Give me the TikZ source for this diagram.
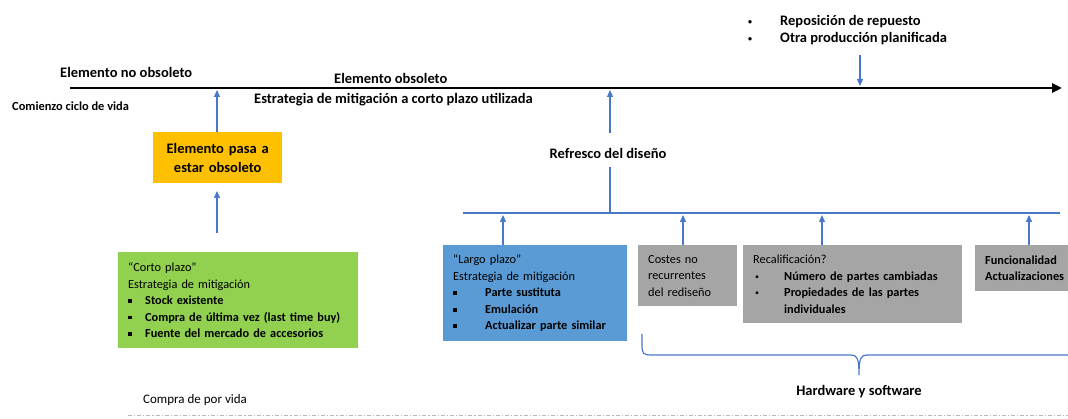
\documentclass[tikz,border=0pt]{standalone}
\usepackage{fontspec}
\setmainfont{Carlito}
\usetikzlibrary{arrows.meta}

\definecolor{linkblue}{HTML}{4A78C8}
\definecolor{shortgreen}{HTML}{92D050}
\definecolor{obsorange}{HTML}{FFC000}
\definecolor{longblue}{HTML}{5B9BD5}
\definecolor{boxgray}{HTML}{A5A5A5}

\newcommand{\sqbul}{\makebox[17pt][l]{\raisebox{1.6pt}{\rule{3.6pt}{3.6pt}}}}
\newcommand{\rndbul}[1]{\makebox[#1][l]{\hspace*{2pt}\raisebox{0.8pt}{\fontsize{8}{8}\selectfont •}}}

\begin{document}
\begin{tikzpicture}[x=1pt,y=-1pt]
  \tikzset{lbl/.style = {inner sep=0pt,anchor=west,font=\bfseries\fontsize{14.5}{17}\selectfont}}
  \tikzset{smalllbl/.style = {inner sep=0pt,anchor=west,font=\bfseries\fontsize{12.4}{14}\selectfont}}
  \tikzset{box/.style = {anchor=north west,inner xsep=10pt,inner ysep=0pt,align=left,font=\fontsize{12.3}{16.5}\selectfont}}
  \tikzset{conn/.style = {linkblue,line width=1.2pt,-{Triangle[length=7pt,width=6pt]}}}
  \tikzset{plain/.style = {linkblue,line width=1.2pt}}

  \useasboundingbox (0,0) rectangle (1068,419);

	% timeline
	\coordinate (start) at (70,88);
	\coordinate (stop) at (1062,88);
	\draw[line width=2.8pt,-{Triangle[length=10pt,width=9pt]}] (start) -- (stop);

	\node[lbl] (notobs) at (60,72) {Elemento no obsoleto};
	\node[smalllbl] (begin) at (12,106) {Comienzo ciclo de vida};
	\node[lbl] (obs) at (334,78) {Elemento obsoleto};
	\node[lbl] (usedshort) at (254,100) {Estrategia de mitigación a corto plazo utilizada};

	\node[lbl,align=left] (spare) at (746,30) {\rndbul{34pt}Reposición de repuesto\\\rndbul{34pt}Otra producción planificada};

	% obsolete branch
	\node[box,fill=obsorange,align=center,font=\bfseries\fontsize{14.5}{19}\selectfont,
	      minimum width=129pt,minimum height=51pt,text width=109pt] (gone) at (153,132)
	      {Elemento pasa a\\estar obsoleto};

	\node[box,fill=shortgreen,minimum width=240pt,minimum height=96pt,text width=220pt] (short) at (118,252)
	      {“Corto plazo”\\Estrategia de mitigación\\
	       \textbf{\sqbul Stock existente}\\
	       \textbf{\sqbul Compra de última vez (last time buy)}\\
	       \textbf{\sqbul Fuente del mercado de accesorios}};

	% design refresh branch
	\node[lbl,anchor=center] (refresh) at (608,153) {Refresco del diseño};

	\node[box,fill=longblue,minimum width=184pt,minimum height=96pt,text width=164pt] (long) at (443,245)
	      {“Largo plazo”\\Estrategia de mitigación\\
	       \textbf{\sqbul\hspace*{15pt}Parte sustituta}\\
	       \textbf{\sqbul\hspace*{15pt}Emulación}\\
	       \textbf{\sqbul\hspace*{15pt}Actualizar parte similar}};

	\node[box,fill=boxgray,minimum width=99pt,minimum height=61pt,text width=79pt] (nre) at (638,245)
	      {Costes no\\recurrentes\\del rediseño};

	\node[box,fill=boxgray,minimum width=219pt,minimum height=78pt,text width=199pt] (requal) at (743,245)
	      {Recalificación?\\
	       \rndbul{31pt}\textbf{Número de partes cambiadas}\\
	       \rndbul{31pt}\textbf{Propiedades de las partes}\\
	       \hspace*{31pt}\textbf{individuales}};

	\node[box,fill=boxgray,font=\bfseries\fontsize{12.3}{16.5}\selectfont,
	      minimum width=95pt,minimum height=46pt,text width=85pt] (func) at (975,245)
	      {Funcionalidad\\Actualizaciones};

	\coordinate (barl) at (463,213);
	\coordinate (barr) at (1060,213);
	\coordinate (barmid) at (610,213);
	\coordinate (refbot) at (610,167);
	\draw[plain] (barl) -- (barr);
	\draw[plain] (refbot) -- (barmid);

	% arrows
	\coordinate (t1) at (217,90);
	\coordinate (t2) at (610,90);
	\coordinate (reftop) at (610,133);
	\coordinate (g1) at (217,233);
	\coordinate (g2) at (217,191);
	\coordinate (s1) at (860,55);
	\coordinate (s2) at (860,86);
	\coordinate (b1) at (503,215);
	\coordinate (b2) at (683,215);
	\coordinate (b3) at (822,215);
	\coordinate (b4) at (1029,215);

	\draw[conn] (gone.north -| t1) -- (t1);
	\draw[conn] (g1) -- (g2);
	\draw[conn] (reftop) -- (t2);
	\draw[conn] (s1) -- (s2);
    \foreach \from/\to in {long/b1,nre/b2,requal/b3,func/b4}
    \draw[conn] (\from.north -| \to) -- (\to);

	% hardware brace
	\coordinate (brl) at (642,334);
	\coordinate (brtip) at (859,375);
	\coordinate (brr) at (1068,355);
	\draw[plain] (brl) -- (642,347) .. controls (642,353) and (644,355) .. (650,355) -- (851,355)
	      .. controls (857,355) and (859,358) .. (brtip)
	      .. controls (859,358) and (861,355) .. (867,355) -- (brr);
	\node[lbl,anchor=center] (hwsw) at (859,392) {Hardware y software};

	% bottom
	\node[smalllbl,font=\fontsize{13}{14}\selectfont] (lifebuy) at (143,400) {Compra de por vida};
	\coordinate (dl) at (128,415);
	\coordinate (dr) at (1068,415);
	\draw[gray!55,line width=0.8pt,dash pattern=on 4pt off 2pt on 1.2pt off 2pt] (dl) -- (dr);

\end{tikzpicture}
\end{document}
